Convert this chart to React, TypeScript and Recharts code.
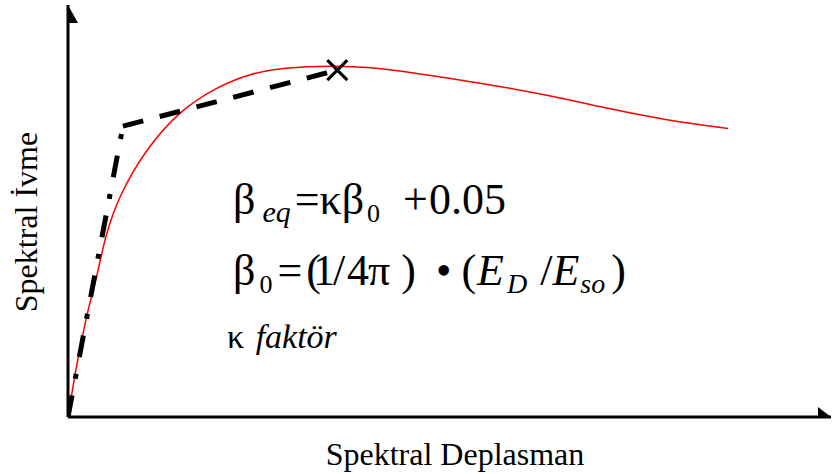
import { ComposedChart, Line, Scatter, XAxis, YAxis } from "recharts";

// capacity curve (red), spectral displacement vs spectral acceleration
const capacityDisp = [0, 1.0, 1.8, 2.6, 3.8, 4.8, 6.6, 10.1, 14.7, 19.5, 23.9, 28.2, 34.7, 39.6, 45.2, 54.0, 62.8, 71.4, 78.0, 86.5];
const capacityAcc = [0, 11.4, 18.7, 26.0, 34.0, 43.4, 53.4, 64.8, 74.5, 80.1, 83.4, 84.8, 85.3, 84.9, 83.6, 81.1, 78.2, 74.6, 72.2, 70.0];

// bilinear idealisation: elastic branch then post-yield branch
const elasticDisp = [0, 7.2];
const elasticAcc = [0, 70.6];
const postYieldDisp = [7.2, 35.3];
const postYieldAcc = [70.6, 84.2];

// performance point
const perfPoint = [{ x: 35.3, y: 84.2 }];

const toPoints = (xs: number[], ys: number[]) => xs.map((x, i) => ({ x, y: ys[i] }));

const capacity = toPoints(capacityDisp, capacityAcc);
const elastic = toPoints(elasticDisp, elasticAcc);
const postYield = toPoints(postYieldDisp, postYieldAcc);

const SERIF = "'Liberation Serif', 'Times New Roman', 'DejaVu Serif', serif";

const CrossMark = (props: any) => {
  const { cx, cy } = props;
  const r = 10;
  return (
    <g stroke="#000" strokeWidth={3}>
      <line x1={cx - r} y1={cy - r} x2={cx + r} y2={cy + r} />
      <line x1={cx - r} y1={cy + r} x2={cx + r} y2={cy - r} />
    </g>
  );
};

const ArrowRight = (props: any) => {
  const { cx, cy } = props;
  return <polygon points={`${cx},${cy} ${cx - 13},${cy - 10} ${cx - 13},${cy + 10}`} fill="#000" />;
};

const ArrowUp = (props: any) => {
  const { cx, cy } = props;
  return <polygon points={`${cx},${cy} ${cx - 10},${cy + 18} ${cx + 10},${cy + 18}`} fill="#000" />;
};

// one run of a formula: [text, dx, dy, size, italic]; runs flow on from each other
type Run = [string, number, number, number, boolean?];

const eqDamping: Run[] = [
  ["β", 0, 0, 44],
  ["eq", 7, 8, 30, true],
  ["=", 4, -8, 44],
  ["κβ", 0, 0, 44],
  ["0", 3, 8, 26],
  [" +", 12, -8, 44],
  ["0.05", 1, 0, 44],
];

const eqBeta0: Run[] = [
  ["β", 0, 0, 44],
  ["0", 4, 8, 26],
  ["=", 5, -8, 44],
  ["(", 4, 0, 44],
  ["1", -8, 0, 44],
  ["/", -2, 0, 44],
  ["4", 2, 0, 44],
  ["π", -1, 0, 44],
  [")", 11, 0, 44],
  [" •", 9, 0, 44],
  ["(", 10, 0, 44],
  ["E", 1, 0, 44, true],
  ["D", 3, 8, 28, true],
  ["/", 13, -8, 44],
  ["E", 0, 0, 44, true],
  ["so", 1, 8, 28, true],
  [")", 6, -8, 44],
];

const kappaNote: Run[] = [
  ["κ ", 0, 0, 34],
  ["faktör", 3, 0, 34, true],
];

const formula = (runs: Run[], x: number, y: number, key: string) => (
  <text key={key} x={x} y={y} fontFamily={SERIF} fill="#000" xmlSpace="preserve" style={{ whiteSpace: "pre" }}>
    {runs.map(([s, dx, dy, size, italic], i) => (
      <tspan key={`${key}-${i}`} dx={dx} dy={dy} fontSize={size} fontStyle={italic ? "italic" : undefined}>
        {s}
      </tspan>
    ))}
  </text>
);

export default function App() {
  return (
    <div style={{ position: "absolute", left: 0, top: 0, width: 832, height: 474, background: "#fff" }}>
      <ComposedChart width={832} height={474} margin={{ top: 5, right: 1, bottom: 27, left: 8 }}>
        <XAxis
          type="number"
          dataKey="x"
          domain={[0, 100]}
          tick={false}
          tickLine={false}
          axisLine={{ stroke: "#000", strokeWidth: 3 }}
          height={30}
          allowDataOverflow
        />
        <YAxis
          type="number"
          dataKey="y"
          domain={[0, 100]}
          tick={false}
          tickLine={false}
          axisLine={{ stroke: "#000", strokeWidth: 3 }}
          width={60}
          allowDataOverflow
        />
        <Line
          data={capacity}
          dataKey="y"
          type="basis"
          stroke="#ff0000"
          strokeWidth={1.5}
          dot={false}
          activeDot={false}
          isAnimationActive={false}
        />
        <Line
          data={elastic}
          dataKey="y"
          type="linear"
          stroke="#000"
          strokeWidth={5}
          strokeDasharray="22 17 5 17"
          dot={false}
          activeDot={false}
          isAnimationActive={false}
        />
        <Line
          data={postYield}
          dataKey="y"
          type="linear"
          stroke="#000"
          strokeWidth={5}
          strokeDasharray="21 17"
          dot={false}
          activeDot={false}
          isAnimationActive={false}
        />
        <Scatter data={perfPoint} dataKey="y" shape={CrossMark} isAnimationActive={false} />
        <Scatter data={[{ x: 100, y: 0 }]} dataKey="y" shape={ArrowRight} isAnimationActive={false} />
        <Scatter data={[{ x: 0, y: 100 }]} dataKey="y" shape={ArrowUp} isAnimationActive={false} />
      </ComposedChart>

      <svg width={832} height={474} style={{ position: "absolute", left: 0, top: 0, pointerEvents: "none" }}>
        <text x={455} y={465} fontSize={32} textAnchor="middle" fontFamily={SERIF} fill="#000">
          Spektral Deplasman
        </text>
        <text
          x={37}
          y={222}
          fontSize={32}
          textAnchor="middle"
          transform="rotate(-90 37 222)"
          fontFamily={SERIF}
          fill="#000"
        >
          Spektral İvme
        </text>
        {formula(eqDamping, 233, 214, "eq1")}
        {formula(eqBeta0, 233, 285, "eq2")}
        {formula(kappaNote, 227, 348, "k")}
      </svg>
    </div>
  );
}
